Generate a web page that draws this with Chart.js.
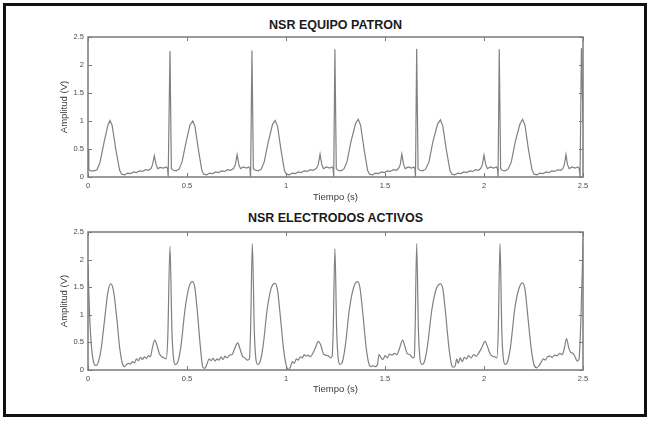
<!DOCTYPE html>
<html>
<head>
<meta charset="utf-8">
<script src="https://cdn.jsdelivr.net/npm/chart.js@4.4.0/dist/chart.umd.min.js"></script>
<style>
	html, body { margin: 0; padding: 0; background: #fff; }
	body { width: 650px; height: 421px; position: relative; overflow: hidden; font-family: "Liberation Sans", Arial, sans-serif; }
	#marco { position: absolute; left: 3px; top: 3px; width: 644px; height: 414px; box-sizing: border-box; border: 3px solid #111; }
	.titulo { position: absolute; left: 88px; width: 495px; text-align: center; font-weight: bold; font-size: 12.5px; line-height: 15px; color: #1a1a1a; }
	canvas { position: absolute; left: 0; }
</style>
</head>
<body>
<div id="marco"></div>
<div class="titulo" style="top:18px">NSR EQUIPO PATRON</div>
<div class="titulo" style="top:211px">NSR ELECTRODOS ACTIVOS</div>
<canvas id="chartPatron" width="650" height="210" style="top:0"></canvas>
<canvas id="chartActivos" width="650" height="200" style="top:200px"></canvas>
<script>
// Ticks (s / V)
const ticksTiempo = [0, 0.5, 1, 1.5, 2, 2.5];
const ticksAmplitud = [0, 0.5, 1, 1.5, 2, 2.5];

// NSR EQUIPO PATRON
const tiempoPatron = [
	0.000, 0.004, 0.012, 0.030, 0.045, 0.060, 0.080, 0.100, 0.111, 0.122, 0.140, 0.160, 0.170, 0.185, 0.200, 0.215,
	0.230, 0.245, 0.260, 0.275, 0.290, 0.305, 0.318, 0.326, 0.335, 0.344, 0.352, 0.365, 0.380, 0.395, 0.402, 0.405,
	0.414, 0.421, 0.430, 0.445, 0.460, 0.475, 0.495, 0.515, 0.529, 0.540, 0.558, 0.575, 0.585, 0.600, 0.615, 0.630,
	0.645, 0.660, 0.675, 0.690, 0.705, 0.720, 0.735, 0.744, 0.753, 0.762, 0.770, 0.785, 0.800, 0.812, 0.818, 0.821,
	0.828, 0.835, 0.845, 0.860, 0.875, 0.890, 0.910, 0.932, 0.945, 0.957, 0.975, 0.992, 1.002, 1.017, 1.032, 1.047,
	1.062, 1.077, 1.092, 1.107, 1.122, 1.137, 1.153, 1.163, 1.172, 1.181, 1.189, 1.205, 1.220, 1.233, 1.238, 1.241,
	1.247, 1.254, 1.262, 1.277, 1.292, 1.308, 1.328, 1.352, 1.365, 1.377, 1.395, 1.412, 1.422, 1.437, 1.452, 1.467,
	1.482, 1.497, 1.512, 1.527, 1.542, 1.557, 1.568, 1.577, 1.585, 1.594, 1.602, 1.618, 1.633, 1.646, 1.651, 1.654,
	1.660, 1.667, 1.675, 1.690, 1.705, 1.722, 1.742, 1.766, 1.780, 1.792, 1.810, 1.828, 1.838, 1.853, 1.868, 1.883,
	1.898, 1.913, 1.928, 1.943, 1.958, 1.972, 1.983, 1.992, 2.000, 2.009, 2.017, 2.033, 2.048, 2.063, 2.068, 2.071,
	2.077, 2.084, 2.092, 2.107, 2.122, 2.138, 2.158, 2.182, 2.195, 2.207, 2.225, 2.243, 2.253, 2.268, 2.283, 2.298,
	2.313, 2.328, 2.343, 2.358, 2.373, 2.388, 2.398, 2.406, 2.414, 2.422, 2.430, 2.445, 2.460, 2.475, 2.481, 2.485,
	2.492, 2.500
];
const amplitudPatron = [
	0.50, 0.14, 0.11, 0.11, 0.13, 0.25, 0.60, 0.92, 1.01, 0.92, 0.50, 0.12, 0.05, 0.04, 0.07, 0.06,
	0.09, 0.08, 0.11, 0.10, 0.13, 0.12, 0.15, 0.22, 0.38, 0.22, 0.15, 0.17, 0.16, 0.18, 0.15, 0.00,
	2.25, 0.15, 0.12, 0.11, 0.14, 0.27, 0.62, 0.93, 1.00, 0.91, 0.48, 0.12, 0.05, 0.04, 0.07, 0.06,
	0.09, 0.08, 0.11, 0.10, 0.13, 0.12, 0.15, 0.22, 0.40, 0.22, 0.15, 0.18, 0.16, 0.18, 0.15, 0.00,
	2.26, 0.15, 0.12, 0.11, 0.14, 0.27, 0.62, 0.94, 1.01, 0.91, 0.48, 0.12, 0.05, 0.04, 0.07, 0.06,
	0.09, 0.08, 0.11, 0.10, 0.13, 0.12, 0.15, 0.22, 0.41, 0.22, 0.15, 0.18, 0.16, 0.18, 0.15, 0.00,
	2.28, 0.15, 0.12, 0.11, 0.14, 0.27, 0.63, 0.96, 1.03, 0.92, 0.48, 0.12, 0.05, 0.04, 0.07, 0.06,
	0.09, 0.08, 0.11, 0.10, 0.13, 0.12, 0.15, 0.22, 0.41, 0.22, 0.15, 0.18, 0.16, 0.18, 0.15, 0.00,
	2.29, 0.15, 0.12, 0.11, 0.14, 0.27, 0.63, 0.95, 1.02, 0.91, 0.48, 0.12, 0.05, 0.04, 0.07, 0.06,
	0.09, 0.08, 0.11, 0.10, 0.13, 0.12, 0.15, 0.22, 0.39, 0.22, 0.15, 0.18, 0.16, 0.18, 0.15, 0.00,
	2.28, 0.15, 0.12, 0.11, 0.14, 0.27, 0.63, 0.95, 1.03, 0.92, 0.48, 0.12, 0.05, 0.04, 0.07, 0.06,
	0.09, 0.08, 0.11, 0.10, 0.13, 0.12, 0.15, 0.22, 0.40, 0.22, 0.15, 0.18, 0.16, 0.18, 0.15, 0.00,
	2.30, 1.00
];

// NSR ELECTRODOS ACTIVOS
const tiempoActivos = [
	0.000, 0.008, 0.018, 0.030, 0.040, 0.050, 0.065, 0.085, 0.100, 0.115, 0.128, 0.145, 0.160, 0.175, 0.185, 0.195,
	0.205, 0.215, 0.225, 0.235, 0.245, 0.255, 0.265, 0.275, 0.285, 0.295, 0.305, 0.315, 0.325, 0.337, 0.348, 0.360,
	0.372, 0.385, 0.395, 0.403, 0.414, 0.424, 0.433, 0.442, 0.455, 0.470, 0.490, 0.510, 0.528, 0.540, 0.555, 0.568,
	0.580, 0.590, 0.600, 0.612, 0.622, 0.632, 0.642, 0.652, 0.662, 0.672, 0.682, 0.692, 0.702, 0.715, 0.728, 0.742,
	0.756, 0.768, 0.780, 0.792, 0.805, 0.815, 0.821, 0.830, 0.840, 0.848, 0.858, 0.870, 0.885, 0.905, 0.925, 0.945,
	0.957, 0.972, 0.987, 1.000, 1.012, 1.022, 1.032, 1.042, 1.052, 1.062, 1.072, 1.082, 1.092, 1.102, 1.112, 1.122,
	1.135, 1.148, 1.163, 1.176, 1.188, 1.200, 1.212, 1.225, 1.233, 1.238, 1.247, 1.256, 1.264, 1.273, 1.285, 1.300,
	1.320, 1.342, 1.362, 1.374, 1.390, 1.405, 1.418, 1.430, 1.440, 1.452, 1.462, 1.470, 1.480, 1.490, 1.500, 1.512,
	1.522, 1.535, 1.548, 1.560, 1.574, 1.589, 1.601, 1.612, 1.625, 1.640, 1.648, 1.652, 1.660, 1.669, 1.677, 1.687,
	1.700, 1.715, 1.737, 1.760, 1.781, 1.793, 1.808, 1.823, 1.836, 1.845, 1.855, 1.862, 1.870, 1.880, 1.890, 1.900,
	1.912, 1.922, 1.935, 1.948, 1.960, 1.972, 1.988, 2.005, 2.018, 2.030, 2.043, 2.055, 2.065, 2.072, 2.081, 2.090,
	2.098, 2.108, 2.120, 2.135, 2.155, 2.177, 2.195, 2.207, 2.222, 2.238, 2.252, 2.266, 2.278, 2.290, 2.300, 2.310,
	2.320, 2.332, 2.345, 2.357, 2.370, 2.382, 2.395, 2.405, 2.417, 2.428, 2.438, 2.450, 2.462, 2.472, 2.480, 2.490,
	2.500
];
const amplitudActivos = [
	1.90, 1.00, 0.40, 0.12, 0.08, 0.12, 0.35, 0.95, 1.40, 1.56, 1.45, 0.95, 0.40, 0.10, 0.06, 0.10,
	0.12, 0.11, 0.15, 0.13, 0.20, 0.17, 0.23, 0.19, 0.24, 0.21, 0.26, 0.24, 0.40, 0.54, 0.45, 0.30,
	0.24, 0.22, 0.20, 0.60, 2.24, 0.70, 0.18, 0.10, 0.16, 0.45, 1.10, 1.50, 1.60, 1.48, 0.95, 0.40,
	0.05, 0.03, 0.10, 0.20, 0.17, 0.21, 0.16, 0.20, 0.18, 0.24, 0.19, 0.25, 0.22, 0.27, 0.28, 0.40,
	0.49, 0.38, 0.25, 0.22, 0.18, 0.20, 0.70, 2.29, 0.70, 0.20, 0.10, 0.16, 0.45, 1.10, 1.48, 1.57,
	1.45, 0.95, 0.40, 0.10, 0.01, 0.05, 0.15, 0.12, 0.20, 0.18, 0.24, 0.22, 0.28, 0.25, 0.27, 0.24,
	0.30, 0.40, 0.52, 0.45, 0.30, 0.27, 0.26, 0.22, 0.25, 0.65, 2.20, 0.70, 0.20, 0.10, 0.15, 0.45,
	1.10, 1.50, 1.60, 1.48, 0.95, 0.40, 0.12, 0.06, 0.08, 0.06, 0.10, 0.28, 0.22, 0.19, 0.26, 0.22,
	0.29, 0.27, 0.30, 0.28, 0.40, 0.54, 0.42, 0.30, 0.28, 0.22, 0.24, 0.70, 2.29, 0.70, 0.20, 0.10,
	0.16, 0.45, 1.10, 1.48, 1.56, 1.45, 0.95, 0.40, 0.10, 0.05, 0.08, 0.20, 0.12, 0.22, 0.15, 0.23,
	0.20, 0.26, 0.22, 0.28, 0.25, 0.30, 0.40, 0.52, 0.42, 0.30, 0.25, 0.24, 0.22, 0.70, 2.29, 0.70,
	0.20, 0.10, 0.16, 0.45, 1.10, 1.48, 1.58, 1.46, 0.95, 0.40, 0.10, 0.04, 0.08, 0.15, 0.20, 0.18,
	0.24, 0.25, 0.23, 0.27, 0.26, 0.30, 0.28, 0.38, 0.57, 0.40, 0.32, 0.30, 0.22, 0.16, 0.20, 1.00,
	2.30
];

// MATLAB-style box with inward ticks on all four sides
const cajaEjes = {
	id: 'cajaEjes',
	afterDatasetsDraw(chart) {
		const { ctx, chartArea: a, scales: { x, y } } = chart;
		ctx.save();
		ctx.strokeStyle = '#7a7a7a';
		ctx.lineWidth = 1.5;
		ctx.strokeRect(a.left, a.top, a.right - a.left, a.bottom - a.top);
		ctx.lineWidth = 1;
		ctx.beginPath();
		x.ticks.forEach(t => {
			const px = Math.round(x.getPixelForValue(t.value)) + 0.5;
			ctx.moveTo(px, a.bottom); ctx.lineTo(px, a.bottom - 4);
			ctx.moveTo(px, a.top); ctx.lineTo(px, a.top + 4);
		});
		y.ticks.forEach(t => {
			const py = Math.round(y.getPixelForValue(t.value)) + 0.5;
			ctx.moveTo(a.left, py); ctx.lineTo(a.left + 4, py);
			ctx.moveTo(a.right, py); ctx.lineTo(a.right - 4, py);
		});
		ctx.stroke();
		ctx.restore();
	}
};

const fuenteTicks = { family: '"Liberation Sans Narrow", "Liberation Sans", sans-serif', size: 7.5 };
const fuenteTitulo = { family: '"Liberation Sans", sans-serif', size: 9.5 };

function crearGrafico(id, tiempo, amplitud, suave, padTop, alturaEjeX, padTituloX) {
	const ctx = document.getElementById(id);
	return new Chart(ctx, {
		type: 'line',
		data: {
			datasets: [{
				data: tiempo.map((t, i) => ({ x: t, y: amplitud[i] })),
				borderColor: '#808080',
				borderWidth: 1.2,
				pointRadius: 0,
				tension: suave ? 0.35 : 0,
				cubicInterpolationMode: suave ? 'monotone' : 'default'
			}]
		},
		options: {
			responsive: false,
			animation: false,
			layout: { padding: { left: 55, right: 67, top: padTop, bottom: 0 } },
			plugins: {
				legend: { display: false },
				tooltip: { enabled: false }
			},
			scales: {
				x: {
					type: 'linear',
					min: 0,
					max: 2.5,
					afterBuildTicks: s => { s.ticks = ticksTiempo.map(v => ({ value: v })); },
					afterFit: s => { s.height = alturaEjeX; },
					grid: { display: false, drawTicks: false },
					border: { display: false },
					ticks: {
						padding: 4,
						color: '#4a4a4a',
						font: fuenteTicks,
						callback: v => String(v)
					},
					title: {
						display: true,
						text: 'Tiempo (s)',
						color: '#3a3a3a',
						padding: { top: 0, bottom: padTituloX },
						font: fuenteTitulo
					}
				},
				y: {
					min: 0,
					max: 2.5,
					afterBuildTicks: s => { s.ticks = ticksAmplitud.map(v => ({ value: v })); },
					afterFit: s => { s.width = 33; },
					grid: { display: false, drawTicks: false },
					border: { display: false },
					ticks: {
						padding: 4,
						color: '#4a4a4a',
						font: fuenteTicks,
						callback: v => String(v)
					},
					title: {
						display: true,
						text: 'Amplitud (V)',
						color: '#3a3a3a',
						padding: { top: 4, bottom: 0 },
						font: fuenteTitulo
					}
				}
			}
		},
		plugins: [cajaEjes]
	});
}

crearGrafico('chartPatron', tiempoPatron, amplitudPatron, false, 37, 33, 7);
crearGrafico('chartActivos', tiempoActivos, amplitudActivos, true, 32, 30, 5);
</script>
</body>
</html>
